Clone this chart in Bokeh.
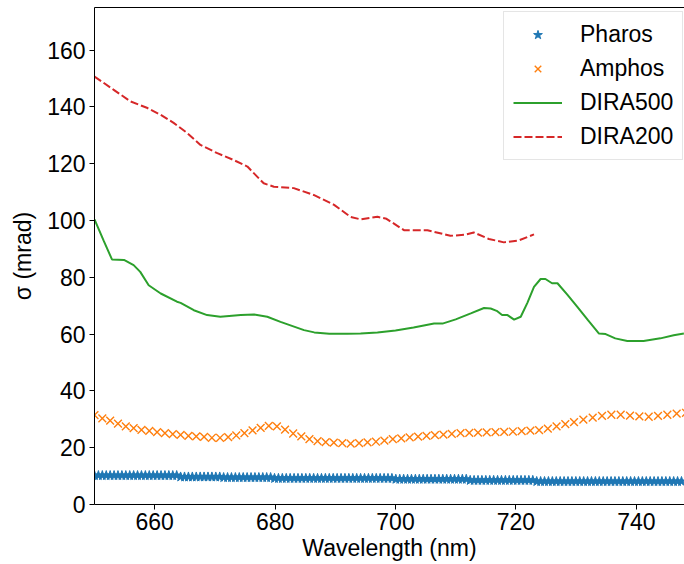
from bokeh.plotting import figure
from bokeh.models import Range1d, LinearAxis, FixedTicker, Legend, LegendItem
from bokeh.embed import file_html
from bokeh.resources import INLINE
import numpy as np

# ---------------- data ----------------
# Pharos (blue stars), regular wavelength grid
pharos_wl = np.round(np.arange(650.0, 747.6, 0.65), 2)
pharos_sigma = [
    10.2, 10.2, 10.2, 10.2, 10.2, 10.2, 10.2, 10.2, 10.2, 10.2, 10.2,
    10.2, 10.2, 10.2, 10.2, 10.2, 10.2, 10.2, 10.2, 10.2, 10.2, 10.2,
    9.7, 9.7, 9.7, 9.7, 9.7, 9.7, 9.7, 9.7, 9.7, 9.7, 9.7,
    9.5, 9.5, 9.5, 9.5, 9.5, 9.5, 9.5, 9.5, 9.5, 9.5, 9.5, 9.5, 9.5,
    9.2, 9.2, 9.2, 9.2, 9.2, 9.2, 9.2, 9.2, 9.2, 9.2, 9.2, 9.2, 9.2,
    9.2, 9.2, 9.2, 9.2, 9.2, 9.2, 9.2, 9.2, 9.2, 9.2, 9.2, 9.2, 9.2,
    9.2, 9.2, 9.2, 9.2, 9.2,
    8.9, 8.9, 8.9, 8.9, 8.9, 8.9, 8.9, 8.9, 8.9, 8.9, 8.9, 8.9, 8.9,
    8.9, 8.9, 8.9, 8.9, 8.9, 8.9,
    8.5, 8.5, 8.5, 8.5, 8.5, 8.5, 8.5, 8.5, 8.5, 8.5, 8.5, 8.5, 8.5,
    8.5, 8.5, 8.5, 8.5,
    8.1, 8.1, 8.1, 8.1, 8.1, 8.1, 8.1, 8.1, 8.1, 8.1, 8.1, 8.1, 8.1,
    8.1, 8.1, 8.1, 8.1, 8.1, 8.1, 8.1, 8.1, 8.1, 8.1, 8.1, 8.1, 8.1,
    8.1, 8.1, 8.1, 8.1, 8.1, 8.1, 8.1, 8.1, 8.1, 8.1, 8.1, 8.1,
]
pharos_wl = pharos_wl[:len(pharos_sigma)]

# Amphos (orange x)
amphos_wl = [
    650.0, 651.3, 652.6, 653.9, 655.2, 656.5, 657.8, 659.1, 660.4, 661.7,
    663.0, 664.3, 665.6, 666.9, 668.2, 669.5, 670.85, 672.2, 673.55, 674.9,
    676.25, 677.6, 678.95, 680.3, 681.65, 683.0, 684.35, 685.7, 687.05, 688.4,
    689.75, 691.15, 692.55, 693.95, 695.35, 696.75, 698.15, 699.55, 700.95, 702.35,
    703.75, 705.15, 706.55, 707.95, 709.35, 710.8, 712.25, 713.7, 715.15, 716.6,
    718.05, 719.5, 720.95, 722.4, 723.85, 725.3, 726.75, 728.2, 729.65, 731.2,
    732.75, 734.3, 735.85, 737.4, 738.95, 740.5, 742.05, 743.6, 745.15, 746.7,
    748.25,
]
amphos_sigma = [
    31.5, 30.3, 29.5, 28.5, 27.5, 26.9, 26.3, 25.9, 25.5, 25.1,
    24.8, 24.5, 24.2, 24.0, 23.8, 23.5, 23.5, 23.7, 24.3, 25.1,
    26.1, 27.0, 27.7, 27.5, 26.4, 25.0, 24.0, 23.0, 22.3, 22.0,
    21.8, 21.6, 21.4, 21.6, 21.9, 22.1, 22.5, 23.0, 23.3, 23.6,
    23.9, 24.2, 24.4, 24.6, 24.9, 25.1, 25.2, 25.3, 25.4, 25.5,
    25.6, 25.7, 25.8, 26.0, 26.2, 26.7, 27.5, 28.3, 29.0, 29.9,
    30.6, 31.2, 31.6, 31.6, 31.3, 31.0, 30.9, 31.2, 31.6, 32.0,
    32.3,
]

# DIRA500 (green solid)
dira500_wl = [
    650.0, 651.5, 652.9, 654.9, 656.5, 657.6, 659.0, 661.0, 663.7, 664.3,
    666.5, 668.7, 670.9, 674.3, 676.5, 678.7, 680.9, 684.8, 686.5, 689.0,
    692.0, 694.2, 697.0, 700.0, 703.0, 706.4, 707.8, 710.0, 712.5, 714.7,
    715.8, 716.8, 717.7, 718.6, 719.7, 720.8, 721.9, 723.0, 724.1, 724.9,
    726.0, 726.9, 728.5, 730.2, 732.0, 733.8, 734.9, 736.5, 738.5, 741.2,
    744.0, 746.2, 747.9,
]
dira500_sigma = [
    100.4, 93.0, 86.3, 86.1, 84.3, 81.9, 77.2, 74.3, 71.4, 71.0,
    68.4, 66.7, 66.1, 66.7, 66.9, 66.1, 64.3, 61.4, 60.6, 60.1,
    60.1, 60.2, 60.6, 61.3, 62.3, 63.7, 63.7, 65.2, 67.3, 69.2,
    69.0, 68.2, 66.7, 66.7, 65.1, 66.1, 71.0, 76.6, 79.4, 79.4,
    77.9, 77.9, 74.0, 69.6, 64.8, 60.2, 60.0, 58.5, 57.6, 57.6,
    58.5, 59.6, 60.2,
]

# DIRA200 (red dashed)
dira200_wl = [
    650.0, 653.2, 656.0, 658.8, 661.0, 663.2, 665.4, 667.6, 670.4, 673.1,
    675.4, 678.1, 679.8, 683.1, 686.4, 689.8, 692.5, 694.2, 697.0, 698.5,
    701.4, 705.3, 709.1, 711.5, 713.0, 715.5, 718.0, 720.5, 723.0,
]
dira200_sigma = [
    150.7, 146.0, 141.9, 139.6, 137.2, 134.3, 130.8, 126.6, 123.7, 121.3,
    119.0, 113.1, 111.9, 111.4, 109.0, 105.5, 101.3, 100.4, 101.3, 100.6,
    96.6, 96.6, 94.6, 95.0, 95.8, 93.5, 92.3, 93.0, 95.1,
]

y_ticks = [0, 20, 40, 60, 80, 100, 120, 140, 160]
x_ticks = [660, 680, 700, 720, 740]

# ---------------- figure ----------------
FONT = "Liberation Sans"
FS = "23px"

p = figure(width=684, height=564, output_backend="svg", toolbar_location=None,
           x_range=Range1d(650, 748.0), y_range=Range1d(0, 175),
           min_border_left=94, min_border_right=0, min_border_top=7,
           min_border_bottom=60)
p.outline_line_color = None
p.xgrid.visible = False
p.ygrid.visible = False
p.background_fill_color = "white"
p.border_fill_color = "white"

for ax in (p.xaxis[0], p.yaxis[0]):
    ax.axis_line_color = "black"
    ax.axis_line_width = 1
    ax.major_tick_line_color = "black"
    ax.major_tick_out = 5
    ax.major_tick_in = 0
    ax.minor_tick_line_color = None
    ax.major_label_text_font = FONT
    ax.major_label_text_font_size = FS
    ax.major_label_text_color = "black"
    ax.axis_label_text_font = FONT
    ax.axis_label_text_font_size = FS
    ax.axis_label_text_font_style = "normal"
    ax.axis_label_text_color = "black"

p.xaxis.ticker = FixedTicker(ticks=x_ticks)
p.yaxis.ticker = FixedTicker(ticks=y_ticks)
p.xaxis.axis_label = "Wavelength (nm)"
p.yaxis.axis_label = "σ (mrad)"
p.xaxis.major_label_standoff = 3
p.xaxis.axis_label_standoff = 2
p.yaxis.major_label_standoff = 4
p.yaxis.axis_label_standoff = 8

top_axis = LinearAxis(ticker=FixedTicker(ticks=[]), axis_line_color="black",
                      major_tick_line_color=None, minor_tick_line_color=None,
                      major_label_text_font_size="0px")
p.add_layout(top_axis, "above")

r_ph = p.scatter(pharos_wl, pharos_sigma, marker="star", size=10,
                 fill_color="#1f77b4", line_color="#1f77b4", line_width=1)
r_am = p.scatter(amphos_wl, amphos_sigma, marker="x", size=11,
                 line_color="#ff7f0e", line_width=1.4)
r_d5 = p.line(dira500_wl, dira500_sigma, line_color="#2ca02c", line_width=2)
r_d2 = p.line(dira200_wl, dira200_sigma, line_color="#d62728", line_width=2,
              line_dash="8 3")

legend = Legend(items=[
    LegendItem(label="Pharos", renderers=[r_ph]),
    LegendItem(label="Amphos", renderers=[r_am]),
    LegendItem(label="DIRA500", renderers=[r_d5]),
    LegendItem(label="DIRA200", renderers=[r_d2]),
], location=(409, 344))
legend.label_text_font = FONT
legend.label_text_font_size = FS
legend.label_text_color = "black"
legend.glyph_width = 49
legend.glyph_height = 23
legend.label_height = 23
legend.label_standoff = 18
legend.spacing = 7
legend.padding = 9
legend.margin = 0
legend.border_line_color = "#cccccc"
legend.border_line_width = 1
legend.background_fill_alpha = 0.8
p.add_layout(legend, "center")

open("out.html", "w").write(file_html(p, INLINE))
